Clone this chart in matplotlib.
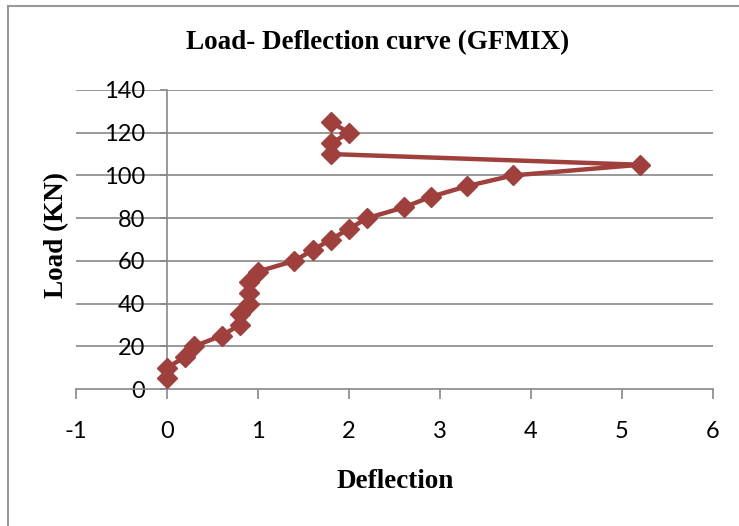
import matplotlib
matplotlib.use("Agg")
import matplotlib.pyplot as plt
from matplotlib.lines import Line2D

# deflection / load readings
deflection = [0, 0, 0.2, 0.3, 0.6, 0.8, 0.8, 0.9, 0.9, 0.9, 1.0, 1.4, 1.6, 1.8,
              2.0, 2.2, 2.6, 2.9, 3.3, 3.8, 5.2, 1.8, 1.8, 2.0, 1.8]
load = [5, 10, 15, 20, 25, 30, 35, 40, 45, 50, 55, 60, 65, 70,
        75, 80, 85, 90, 95, 100, 105, 110, 115, 120, 125]
x_ticks = [-1, 0, 1, 2, 3, 4, 5, 6]
y_ticks = [0, 20, 40, 60, 80, 100, 120, 140]

red = "#a0403d"
grey = "#888888"
serif = "Liberation Serif"
sans = "Lato"

fig = plt.figure(figsize=(7.39, 5.26), dpi=100)
ax = fig.add_axes([76 / 739, 1 - 389 / 526, (713 - 76) / 739, (389 - 90) / 526])

ax.plot(deflection, load, color=red, linewidth=3.2, marker="D",
        markersize=10.5, markerfacecolor=red, markeredgecolor=red, zorder=3)

# horizontal grid lines across the plot area
for v in y_ticks[1:]:
    ax.axhline(v, color=grey, linewidth=1.2, zorder=1)

for side in ["top", "right"]:
    ax.spines[side].set_visible(False)
ax.spines["left"].set_position(("data", 0))
ax.spines["left"].set_color(grey)
ax.spines["left"].set_linewidth(1.2)
ax.spines["bottom"].set_color(grey)
ax.spines["bottom"].set_linewidth(1.2)

ax.set_xlim(-1, 6)
ax.set_ylim(0, 140)
ax.set_xticks(x_ticks)
ax.set_yticks(y_ticks)
ax.set_xticklabels([str(v) for v in x_ticks], fontname=sans, fontsize=17)
ax.set_yticklabels([str(v) for v in y_ticks], fontname=sans, fontsize=17)
ax.tick_params(axis="x", direction="out", length=7, width=1.2, color=grey, pad=16)
ax.tick_params(axis="y", direction="out", length=5, width=1.2, color=grey, pad=11)

fig.text(378 / 739, 1 - 43 / 526, "Load- Deflection curve (GFMIX)", ha="center",
         va="center", fontname=serif, fontweight="bold", fontsize=19.5)
fig.text(57 / 739, 1 - 235 / 526, "Load (KN)", ha="center", va="center",
         rotation=90, fontname=serif, fontweight="bold", fontsize=19.5)
fig.text(395 / 739, 1 - 481 / 526, "Deflection", ha="center", va="center",
         fontname=serif, fontweight="bold", fontsize=19.5)

# chart frame (only left and top edges visible in the crop)
fig.add_artist(Line2D([8 / 739, 8 / 739], [0, 1 - 6 / 526], color="#999999", linewidth=1.5))
fig.add_artist(Line2D([8 / 739, 1], [1 - 6 / 526, 1 - 6 / 526], color="#999999", linewidth=1.5))

fig.savefig("out.png", dpi=100)
